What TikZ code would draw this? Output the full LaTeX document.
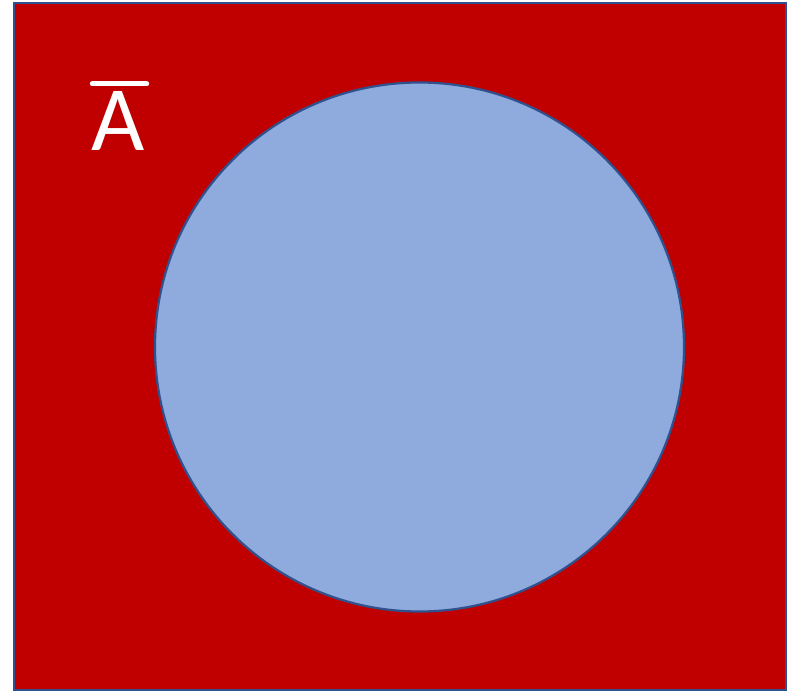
\documentclass[tikz,border=0pt]{standalone}
\usepackage{fontspec}
\setmainfont{Carlito}
\definecolor{setred}{RGB}{192,0,0}
\definecolor{setblue}{RGB}{143,170,220}
\definecolor{edgeblue}{RGB}{47,82,143}
\begin{document}
\begin{tikzpicture}[x=1pt, y=-1pt, line width=2.2pt]
  \useasboundingbox (0,0) rectangle (789,692);
  % 전체집합
  \fill[setred, draw=edgeblue] (14,3) rectangle (786,690);
  % 집합 A
  \fill[setblue, draw=edgeblue] (419.5,347) circle (264.5);
  % 여집합 표시
  \node[white, font=\fontsize{92}{92}\selectfont, anchor=base, inner sep=0pt] (acomp) at (118,151) {A};
  \draw[white, line width=5pt, line cap=round] ([xshift=2pt,yshift=7pt]acomp.north west) -- ([xshift=1pt,yshift=7pt]acomp.north east);
\end{tikzpicture}
\end{document}
